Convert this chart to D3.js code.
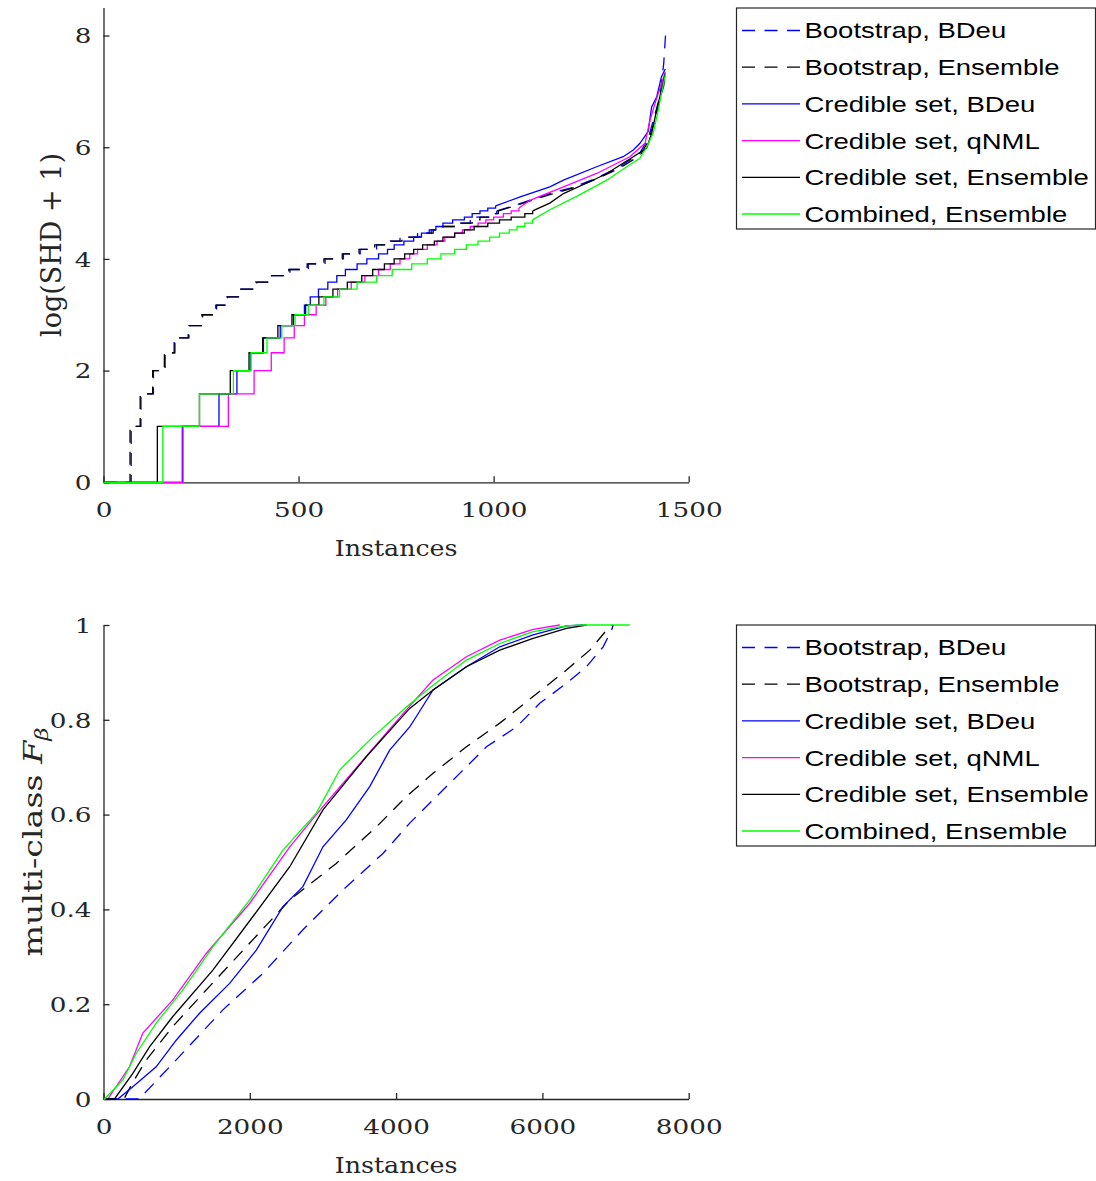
<!DOCTYPE html>
<html>
<head>
<meta charset="utf-8">
<script src="https://cdn.jsdelivr.net/npm/d3@7"></script>
<style>
    body { margin: 0; background: #fff; }
    svg { display: block; }
    .tick text { font-family: "DejaVu Serif", serif; fill: #262626; }
    .axis_label { font-family: "DejaVu Serif", serif; fill: #262626; }
    .legend text { font-family: "Liberation Sans", Arial, sans-serif; fill: #000; }
</style>
</head>
<body>
<div id="container"><svg></svg></div>
<script>
let width = 1096;
let height = 1181;

// legend entries (same for both panels)
let seriesNames = ['Bootstrap, BDeu', 'Bootstrap, Ensemble', 'Credible set, BDeu',
                   'Credible set, qNML', 'Credible set, Ensemble', 'Combined, Ensemble'];
let seriesColors = ['#0000ff', '#000000', '#0000ff', '#ff00ff', '#000000', '#00ff00'];
let seriesDashed = [true, true, false, false, false, false];

// tick values
let topXTicks = [0, 500, 1000, 1500];
let topYTicks = [0, 2, 4, 6, 8];
let botXTicks = [0, 2000, 4000, 6000, 8000];
let botYTicks = [0, 0.2, 0.4, 0.6, 0.8, 1];

// ---- top panel: log(SHD+1) per instance, staircase part then tail ----
let shdBootBDeuSteps = [[0,0],[71,1],[96,1.585],[128,2],[158,2.32],[181,2.585],[217,2.807],[252,3],[290,3.17],[316,3.32],[350,3.46],[393,3.585],[431,3.70],[478,3.81],[525,3.91],[568,4.0],[615,4.09],[658,4.17],[700,4.25],[735,4.32],[760,4.39],[811,4.46],[840,4.52],[863,4.58],[914,4.64],[940,4.70],[957,4.75],[990,4.81],[1008,4.86]];
let shdBootBDeuTail = [[1008,4.86],[1059,4.97],[1144,5.17],[1204,5.28],[1264,5.45],[1324,5.65],[1375,5.9],[1396,6.15],[1410,6.5],[1426,6.9],[1436,7.5],[1441,8.05]];

let shdBootEnsSteps = [[0,0],[68,1],[94,1.585],[126,2],[156,2.32],[183,2.585],[219,2.807],[254,3],[288,3.17],[318,3.32],[352,3.46],[390,3.585],[428,3.70],[475,3.81],[522,3.91],[565,4.0],[612,4.09],[655,4.17],[695,4.25],[730,4.32],[765,4.39],[805,4.46],[845,4.52],[870,4.58],[910,4.64],[945,4.70],[965,4.75],[995,4.81],[1012,4.86]];
let shdBootEnsTail = [[1012,4.86],[1059,4.96],[1144,5.15],[1204,5.27],[1264,5.43],[1324,5.63],[1375,5.85],[1396,6.1],[1412,6.45],[1426,6.85],[1436,7.1],[1441,7.35]];

let shdCredBDeuSteps = [[0,0],[202,1],[296,1.585],[342,2],[377,2.32],[410,2.585],[453,2.807],[487,3],[515,3.17],[530,3.32],[551,3.46],[575,3.585],[598,3.70],[620,3.81],[650,3.91],[675,4.0],[705,4.09],[728,4.17],[745,4.25],[770,4.32],[795,4.39],[815,4.46],[835,4.52],[852,4.58],[870,4.64],[895,4.70],[925,4.75],[945,4.81],[965,4.86],[985,4.91],[1005,4.95]];
let shdCredBDeuTail = [[1005,4.95],[1068,5.11],[1144,5.29],[1179,5.41],[1264,5.65],[1332,5.83],[1358,5.95],[1375,6.07],[1396,6.28],[1405,6.72],[1418,6.9],[1430,7.26],[1440,7.4]];

let shdCredQnmlSteps = [[0,0],[204,1],[320,1.585],[386,2],[430,2.32],[463,2.585],[489,2.807],[515,3],[545,3.17],[570,3.32],[600,3.46],[635,3.585],[670,3.70],[705,3.81],[735,3.91],[760,4.0],[785,4.09],[805,4.17],[830,4.25],[855,4.32],[875,4.39],[900,4.46],[920,4.52],[940,4.58],[960,4.64],[980,4.70],[1000,4.75],[1025,4.81],[1045,4.86],[1065,4.91]];
let shdCredQnmlTail = [[1065,4.91],[1093,5.05],[1179,5.29],[1264,5.53],[1349,5.83],[1388,6.07],[1401,6.49],[1414,6.79],[1436,7.26],[1440,7.35]];

let shdCredEnsSteps = [[0,0],[138,1],[246,1.585],[325,2],[373,2.32],[408,2.585],[447,2.807],[483,3],[518,3.17],[552,3.32],[588,3.46],[625,3.585],[662,3.70],[690,3.81],[720,3.91],[745,4.0],[772,4.09],[795,4.17],[818,4.25],[848,4.32],[870,4.39],[900,4.46],[925,4.52],[950,4.58],[985,4.64],[1015,4.70],[1045,4.75],[1080,4.81],[1100,4.86]];
let shdCredEnsTail = [[1100,4.86],[1144,5.0],[1179,5.17],[1264,5.44],[1290,5.53],[1358,5.83],[1392,5.98],[1405,6.25],[1418,6.67],[1426,6.9],[1440,7.32]];

let shdCombEnsSteps = [[0,0],[152,1],[246,1.585],[333,2],[378,2.32],[419,2.585],[457,2.807],[491,3],[525,3.17],[565,3.32],[605,3.46],[650,3.585],[700,3.70],[740,3.81],[790,3.91],[830,4.0],[865,4.09],[900,4.17],[930,4.25],[960,4.32],[990,4.39],[1015,4.46],[1040,4.52],[1060,4.58],[1080,4.64],[1100,4.70]];
let shdCombEnsTail = [[1100,4.70],[1144,4.88],[1213,5.12],[1290,5.41],[1341,5.65],[1375,5.8],[1392,6.0],[1409,6.25],[1420,6.6],[1430,6.95],[1441,7.32]];

// ---- bottom panel: multi-class F_beta per instance ----
let fbBootBDeu = [[0,0],[492,0],[561,0.012],[948,0.075],[1632,0.188],[2179,0.265],[2726,0.357],[3273,0.441],[3820,0.518],[4186,0.582],[4414,0.617],[4870,0.687],[5235,0.743],[5646,0.785],[5964,0.835],[6329,0.877],[6603,0.912],[6831,0.954],[6945,0.989],[6968,1.0]];
let fbBootEns = [[0,0],[280,0],[400,0.035],[583,0.082],[948,0.153],[1404,0.23],[1952,0.321],[2546,0.42],[3182,0.497],[3730,0.574],[4140,0.638],[4505,0.687],[4961,0.743],[5417,0.793],[5873,0.849],[6329,0.905],[6648,0.947],[6877,0.989],[6968,1.0]];
let fbCredBDeu = [[0,0],[196,0],[401,0.026],[720,0.068],[994,0.124],[1313,0.181],[1724,0.244],[2089,0.314],[2453,0.406],[2726,0.448],[3000,0.532],[3319,0.589],[3639,0.659],[3912,0.736],[4186,0.785],[4277,0.807],[4505,0.863],[4961,0.912],[5417,0.954],[5873,0.979],[6329,0.998],[6557,1.0]];
let fbCredQnml = [[0,0],[59,0],[355,0.068],[538,0.139],[948,0.209],[1404,0.307],[2000,0.413],[2546,0.532],[3000,0.617],[3547,0.715],[4140,0.821],[4505,0.884],[4961,0.933],[5417,0.968],[5873,0.991],[6238,1.0]];
let fbCredEns = [[0,0],[150,0],[401,0.054],[629,0.11],[948,0.174],[1495,0.272],[2043,0.385],[2546,0.49],[3000,0.61],[3592,0.722],[4186,0.824],[4505,0.863],[4961,0.912],[5417,0.947],[5873,0.972],[6329,0.993],[6603,1.0]];
let fbCombEns = [[0,0],[14,0],[264,0.04],[447,0.096],[720,0.16],[1085,0.23],[1495,0.321],[2000,0.42],[2453,0.525],[2909,0.603],[3228,0.694],[3684,0.764],[4140,0.827],[4505,0.873],[4961,0.926],[5417,0.961],[5873,0.986],[6329,0.998],[6557,1.0],[7196,1.0]];

let topSteps = [shdBootBDeuSteps, shdBootEnsSteps, shdCredBDeuSteps, shdCredQnmlSteps, shdCredEnsSteps, shdCombEnsSteps];
let topTails = [shdBootBDeuTail, shdBootEnsTail, shdCredBDeuTail, shdCredQnmlTail, shdCredEnsTail, shdCombEnsTail];
let botLines = [fbBootBDeu, fbBootEns, fbCredBDeu, fbCredQnml, fbCredEns, fbCombEns];

let axisColor = '#262626';
let stretch = 1.28;      // MATLAB export looks wider than tall

let svg = d3.select('#container').select('svg')
    .attr('width', width)
    .attr('height', height);

function draw_axes(x, y, xTicks, yTicks, fmt) {
    let axis_x = d3.axisBottom(x)
        .tickValues(xTicks)
        .tickSizeInner(-6)
        .tickSizeOuter(0)
        .tickFormat(d => d);
    let axis_y = d3.axisLeft(y)
        .tickValues(yTicks)
        .tickSizeInner(-6)
        .tickSizeOuter(0)
        .tickFormat(fmt);

    let gx = svg.append('g')
        .attr('transform', `translate(0, ${y.range()[0]})`)
        .call(axis_x);
    let gy = svg.append('g')
        .attr('transform', `translate(${x.range()[0]}, 0)`)
        .call(axis_y);

    [gx, gy].forEach(g => {
        g.select('.domain').attr('stroke', axisColor).attr('stroke-width', 1.3);
        g.selectAll('.tick line').attr('stroke', axisColor).attr('stroke-width', 1.3);
        g.selectAll('.tick text').attr('font-size', '20.5px');
    });
    gx.selectAll('.tick text')
        .attr('y', 35).attr('dy', 0)
        .attr('transform', `scale(${stretch},1)`);
    gy.selectAll('.tick text')
        .attr('x', -12 / stretch).attr('dy', '0.36em')
        .attr('transform', `scale(${stretch},1)`);
}

function draw_xlabel(x, yPos, label) {
    let cx = (x.range()[0] + x.range()[1]) / 2;
    svg.append('g')
        .attr('transform', `translate(${cx}, ${yPos}) scale(1.15,1)`)
        .append('text')
        .attr('class', 'axis_label')
        .attr('text-anchor', 'middle')
        .attr('font-size', '22px')
        .text(label);
}

function draw_legend(x0, y0) {
    let boxW = 359, boxH = 221, rowH = 36.7;
    let g = svg.append('g')
        .attr('class', 'legend')
        .attr('transform', `translate(${x0}, ${y0})`);
    g.append('rect')
        .attr('x', 0).attr('y', 0)
        .attr('width', boxW).attr('height', boxH)
        .attr('fill', '#fff')
        .attr('stroke', axisColor)
        .attr('stroke-width', 1.2);
    seriesNames.forEach((name, i) => {
        let yy = 22.5 + i * rowH;
        g.append('line')
            .attr('x1', 5.5).attr('x2', 63.5)
            .attr('y1', yy).attr('y2', yy)
            .attr('stroke', seriesColors[i])
            .attr('stroke-width', 1.3)
            .attr('stroke-dasharray', seriesDashed[i] ? '13,9.5' : null);
        g.append('g')
            .attr('transform', `translate(68, ${yy}) scale(1.25,1)`)
            .append('text')
            .attr('dy', '0.36em')
            .attr('font-size', '22px')
            .text(name);
    });
}

function draw_top() {
    let x = d3.scaleLinear().domain([0, 1500]).range([103.5, 688.7]);
    let y = d3.scaleLinear().domain([0, 8.5]).range([482.3, 7.6]);

    draw_axes(x, y, topXTicks, topYTicks, d => d);

    let stepLine = d3.line()
        .x(d => x(d[0])).y(d => y(d[1]))
        .curve(d3.curveStepAfter);
    let tailLine = d3.line()
        .x(d => x(d[0])).y(d => y(d[1]));

    topSteps.forEach((steps, i) => {
        [stepLine(steps), tailLine(topTails[i])].forEach(p => {
            svg.append('path')
                .attr('d', p)
                .attr('fill', 'none')
                .attr('stroke', seriesColors[i])
                .attr('stroke-width', 1.3)
                .attr('stroke-dasharray', seriesDashed[i] ? '13,9' : null);
        });
    });

    draw_xlabel(x, 556, 'Instances');

    svg.append('g')
        .attr('transform', `translate(52, 245) rotate(-90)`)
        .append('text')
        .attr('class', 'axis_label')
        .attr('text-anchor', 'middle')
        .attr('dy', '0.35em')
        .attr('font-size', '27px')
        .text('log(SHD + 1)');

    draw_legend(736.5, 8);
}

function draw_bottom() {
    let x = d3.scaleLinear().domain([0, 8000]).range([103.5, 688.7]);
    let y = d3.scaleLinear().domain([0, 1]).range([1099, 625]);

    draw_axes(x, y, botXTicks, botYTicks, d => d);

    let line = d3.line()
        .x(d => x(d[0])).y(d => y(d[1]));

    botLines.forEach((pts, i) => {
        svg.append('path')
            .attr('d', line(pts))
            .attr('fill', 'none')
            .attr('stroke', seriesColors[i])
            .attr('stroke-width', 1.3)
            .attr('stroke-dasharray', seriesDashed[i] ? '13,9' : null);
    });

    draw_xlabel(x, 1173, 'Instances');

    let lab = svg.append('g')
        .attr('transform', `translate(33, 842) rotate(-90) scale(1.28,1)`)
        .append('text')
        .attr('class', 'axis_label')
        .attr('text-anchor', 'middle')
        .attr('dy', '0.35em')
        .attr('font-size', '26px');
    lab.append('tspan').text('multi-class ');
    lab.append('tspan').attr('font-style', 'italic').text('F');
    lab.append('tspan').attr('font-style', 'italic').attr('font-size', '18px').attr('dy', '0.3em').text('β');

    draw_legend(736.5, 625);
}

draw_top();
draw_bottom();
</script>
</body>
</html>
